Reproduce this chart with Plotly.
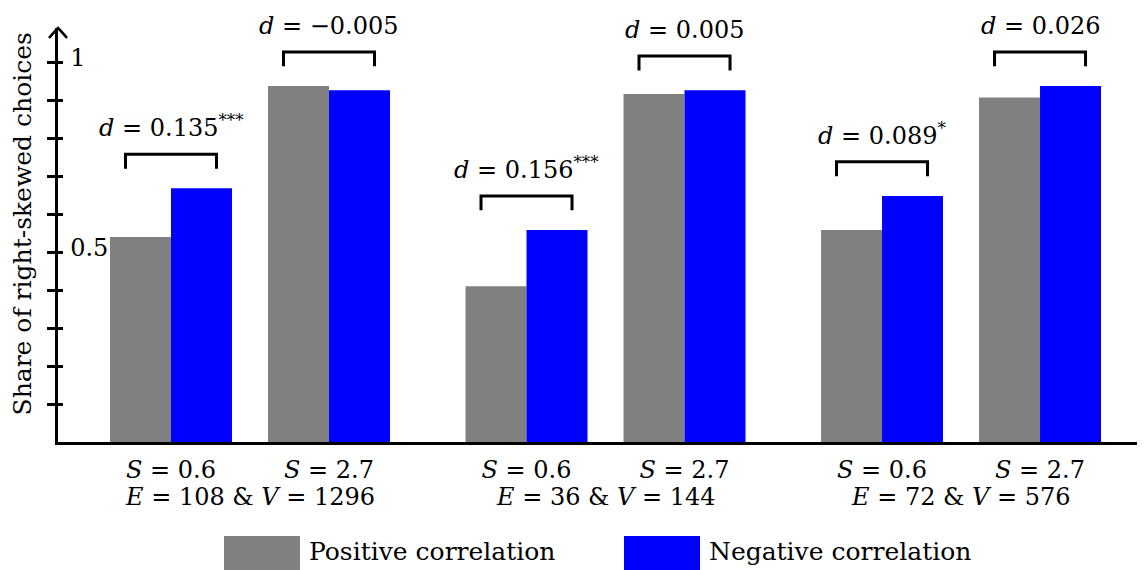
import plotly.graph_objects as go

# ---- data ----
positions = [0, 1, 2.25, 3.25, 4.5, 5.5]
s_labels = ["0.6", "2.7", "0.6", "2.7", "0.6", "2.7"]
group_centers = [0.5, 2.75, 5.0]
group_labels = ["108 &amp; <i>V</i> = 1296", "36 &amp; <i>V</i> = 144", "72 &amp; <i>V</i> = 576"]
positive = [0.541, 0.939, 0.411, 0.918, 0.559, 0.909]
negative = [0.669, 0.928, 0.559, 0.928, 0.649, 0.939]
d_values = ["0.135<sup>***</sup>", "\u22120.005", "0.156<sup>***</sup>", "0.005", "0.089<sup>*</sup>", "0.026"]
ytick_major = [0.5, 1.0]
ytick_major_text = ["0.5", "1"]
ytick_all = [0.1, 0.2, 0.3, 0.4, 0.5, 0.6, 0.7, 0.8, 0.9, 1.0]

GRAY = "#808080"
BLUE = "#0000ff"
FONT = "DejaVu Serif"
BW = 0.386

fig = go.Figure()
fig.add_trace(go.Bar(x=positions, y=positive, width=BW, offset=-BW,
                     marker=dict(color=GRAY, line=dict(width=0)),
                     name="Positive correlation", showlegend=False))
fig.add_trace(go.Bar(x=positions, y=negative, width=BW, offset=0,
                     marker=dict(color=BLUE, line=dict(width=0)),
                     name="Negative correlation", showlegend=False))

# brackets and d labels
for p, a, b, d in zip(positions, positive, negative, d_values):
    top = max(a, b) + 0.09
    fig.add_trace(go.Scatter(x=[p - 0.288, p - 0.288, p + 0.288, p + 0.288],
                             y=[top - 0.038, top, top, top - 0.038],
                             mode="lines", line=dict(color="black", width=3),
                             showlegend=False, hoverinfo="skip", cliponaxis=False))
    fig.add_annotation(x=p, y=top, xref="x", yref="y", text="<i>d</i> = " + d,
                       showarrow=False, yanchor="bottom", yshift=10,
                       font=dict(family=FONT, size=24, color="black"))

# invisible trace for secondary y axis (inner tick halves)
fig.add_trace(go.Scatter(x=[positions[0]], y=[0], yaxis="y2", mode="markers",
                         marker=dict(opacity=0), showlegend=False, hoverinfo="skip"))

for c, g in zip(group_centers, group_labels):
    fig.add_annotation(x=c, y=0, xref="x", yref="paper", text="<i>E</i> = " + g,
                       showarrow=False, yanchor="middle", yshift=-55,
                       font=dict(family=FONT, size=24, color="black"))

# y axis title
fig.add_annotation(x=0, y=0.5266, xref="paper", yref="paper",
                   text="Share of right-skewed choices", textangle=-90,
                   showarrow=False, xanchor="right", yanchor="middle", xshift=-19,
                   font=dict(family=FONT, size=25, color="black"))

# custom legend
legend_items = [("Positive correlation", GRAY, 0.1516, 0.2210),
                ("Negative correlation", BLUE, 0.5169, 0.5863)]
for name, col, x0, x1 in legend_items:
    fig.add_shape(type="rect", xref="paper", yref="paper", x0=x0, x1=x1,
                  y0=-0.3092, y1=-0.2271, fillcolor=col, line=dict(width=0))
    fig.add_annotation(x=x1, y=-0.2633, xref="paper", yref="paper", text=name,
                       showarrow=False, xanchor="left", yanchor="middle", xshift=7,
                       font=dict(family=FONT, size=25, color="black"))

# arrow head on y axis
fig.add_shape(type="path", xref="paper", yref="paper", xsizemode="pixel", ysizemode="pixel",
              xanchor=0, yanchor=1, path="M -9,-10 Q -3,-3 0,0 Q 3,-3 9,-10",
              line=dict(color="black", width=2.5))

fig.update_layout(
    width=1145, height=570,
    margin=dict(l=50, r=0, t=20, b=136, autoexpand=False),
    plot_bgcolor="white", paper_bgcolor="white",
    barmode="overlay",
    font=dict(family=FONT, color="black"),
    xaxis=dict(range=[-0.7152, 6.215], tickvals=positions,
               ticktext=["<i>S</i> = " + s for s in s_labels],
               ticks="", showline=True, linewidth=3, linecolor="black",
               showgrid=False, zeroline=False,
               tickfont=dict(size=24, color="black"), ticklabelstandoff=4),
    yaxis=dict(range=[0, 1.092], tickvals=ytick_major, ticktext=ytick_major_text,
               ticks="outside", ticklen=8, tickwidth=2.5, tickcolor="black",
               minor=dict(tickvals=ytick_all, ticks="outside", ticklen=8,
                          tickwidth=2.5, tickcolor="black", showgrid=False),
               ticklabelposition="inside", ticklabelstandoff=14, ticklabelshift=-5,
               showline=True, linewidth=3, linecolor="black",
               showgrid=False, zeroline=False,
               tickfont=dict(size=24, color="black")),
    yaxis2=dict(range=[0, 1.092], overlaying="y", side="left", anchor="x",
                tickvals=ytick_all, ticks="inside", ticklen=5, tickwidth=2.5,
                tickcolor="black", showticklabels=False, showline=False,
                showgrid=False, zeroline=False),
)

fig.write_html("out.html")
